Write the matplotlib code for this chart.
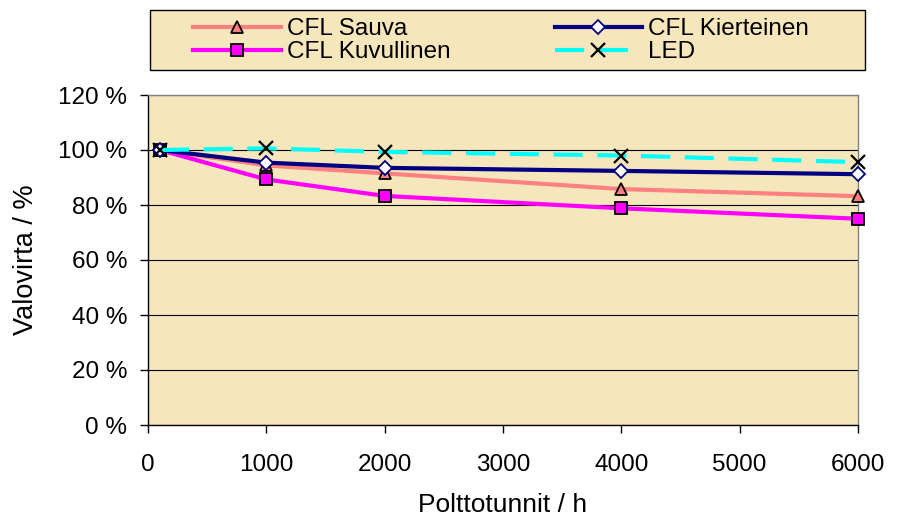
import matplotlib
matplotlib.use("Agg")
import matplotlib.pyplot as plt
from matplotlib.patches import Rectangle
from matplotlib.ticker import FuncFormatter

plt.rcParams['font.family'] = ['Liberation Sans', 'DejaVu Sans']

hours = [100, 1000, 2000, 4000, 6000]
sauva = [100, 94.4, 91.5, 85.8, 83.2]
kierteinen = [100, 95.4, 93.5, 92.4, 91.2]
kuvullinen = [100, 89.3, 83.3, 78.8, 75.0]
led = [100, 100.6, 99.3, 98.0, 95.6]
labels = ["CFL Sauva", "CFL Kierteinen", "CFL Kuvullinen", "LED"]
xticks = [0, 1000, 2000, 3000, 4000, 5000, 6000]
yticks = [0, 20, 40, 60, 80, 100, 120]

bg = '#F6E6BC'
fig = plt.figure(figsize=(9.01, 5.22), dpi=100)
ax = fig.add_axes([148/901, 1-425/522, 710/901, 330/522])
ax.set_facecolor(bg)

h1, = ax.plot(hours, sauva, color='#FF8080', lw=3, marker='^', ms=8,
              mfc='#FF8080', mec='black', mew=1.3, clip_on=False, zorder=3)
h2, = ax.plot(hours, kierteinen, color='#000080', lw=3, marker='D', ms=7,
              mfc='white', mec='#000080', mew=1.3, clip_on=False, zorder=4)
h3, = ax.plot(hours, kuvullinen, color='#FF00FF', lw=3, marker='s', ms=8,
              mfc='#FF00FF', mec='black', mew=1.3, clip_on=False, zorder=3)
h4, = ax.plot(hours, led, color='#00FFFF', lw=3, dashes=[7, 3.5], marker='x', ms=10,
              mec='black', mew=1.6, clip_on=False, zorder=5)

ax.set_xlim(0, 6000)
ax.set_ylim(0, 120)
ax.set_xticks(xticks)
ax.set_yticks(yticks)
ax.yaxis.set_major_formatter(FuncFormatter(lambda v, p: f"{int(v)} %"))
ax.grid(axis='y', color='black', lw=0.8)
ax.set_axisbelow(True)
ax.tick_params(axis='both', direction='out', length=6, width=1, labelsize=17.5)
ax.tick_params(axis='x', pad=15)
ax.tick_params(axis='y', pad=9)
for s in ['left', 'bottom']:
    ax.spines[s].set_color('black')
    ax.spines[s].set_linewidth(1)
for s in ['top', 'right']:
    ax.spines[s].set_color('#808080')
    ax.spines[s].set_linewidth(1)
ax.set_xlabel("Polttotunnit / h", fontsize=19, labelpad=12)
ax.set_ylabel("Valovirta / %", fontsize=19.5, labelpad=14)

fig.patches.append(Rectangle((150/901, 1-70/522), 715/901, 60/522, transform=fig.transFigure,
                             facecolor=bg, edgecolor='black', lw=1, zorder=0))
fig.legend([h1, h3, h2, h4], [labels[0], labels[2], labels[1], labels[3]], ncol=2,
           loc='upper left', bbox_to_anchor=(193/901, 1-18/522), frameon=False, fontsize=17.5,
           handlelength=3.6, handletextpad=0.25, columnspacing=4.3,
           labelspacing=0.05, borderpad=0, borderaxespad=0)

fig.savefig("out.png", dpi=100)
